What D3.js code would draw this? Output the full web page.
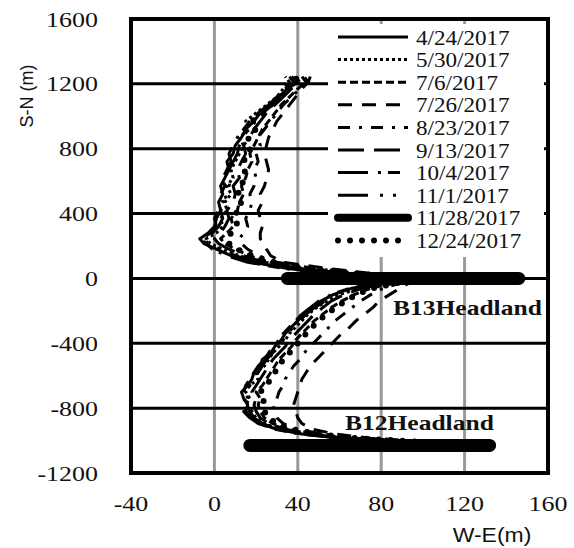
<!DOCTYPE html>
<html>
<head>
<meta charset="utf-8">
<script src="https://cdn.jsdelivr.net/npm/d3@7"></script>
<style>
  body { margin: 0; background: #fff; }
  svg { display: block; }
</style>
</head>
<body>
<div id="chart"></div>
<script>
// S-N positions (m) at which each survey's shoreline W-E position was read
const yLevels = [-1005, -985, -960, -930, -895, -860, -820, -780, -740, -700, -660, -620, -580, -540,
  -500, -460, -420, -380, -340, -300, -260, -220, -180, -140, -100, -60, -25, 0, 25, 60, 100, 140,
  180, 215, 245, 280, 320, 370, 420, 470, 520, 570, 620, 670, 720, 770, 820, 870, 920, 970, 1020,
  1070, 1120, 1170, 1210, 1245]

const dates = ['4/24/2017', '5/30/2017', '7/6/2017', '7/26/2017', '8/23/2017', '9/13/2017',
  '10/4/2017', '11/1/2017', '11/28/2017', '12/24/2017']

// W-E (m) per level
const x0424 = [95, 62, 42, 30, 22, 18, 15, 16, 14, 13, 16, 18, 19, 22, 23, 27, 29, 32, 34, 37, 40, 43, 47, 51, 57, 66, 82, 96,
  62, 36, 18, 8, 1, -5, -7, -3, 0, 1, 3, 2, 4, 3, 5, 7, 6, 9, 10, 13, 15, 19, 22, 27, 31, 35, 40, 37]
const x0530 = [90, 60, 44, 31, 24, 20, 18, 15, 17, 15, 17, 21, 20, 24, 26, 28, 31, 34, 36, 39, 42, 45, 49, 54, 60, 70, 85, 97,
  66, 40, 22, 12, 4, -2, -4, 1, 4, 3, 6, 5, 8, 6, 9, 8, 10, 12, 14, 12, 17, 15, 20, 25, 30, 33, 36, 34]
const x0706 = [98, 66, 48, 35, 28, 24, 22, 21, 22, 20, 23, 25, 27, 29, 31, 34, 37, 39, 42, 45, 48, 52, 56, 61, 67, 75, 88, 99,
  70, 44, 26, 17, 10, 5, 3, 6, 9, 8, 11, 12, 14, 13, 15, 16, 18, 17, 19, 21, 23, 26, 29, 32, 36, 40, 44, 42]
const x0726 = [100, 75, 58, 47, 42, 40, 39, 38, 39, 40, 41, 42, 44, 46, 49, 52, 55, 58, 61, 65, 68, 72, 76, 79, 84, 89, 94, 100,
  80, 55, 33, 27, 25, 24, 22, 22, 23, 22, 21, 23, 22, 24, 25, 26, 25, 24, 25, 26, 28, 30, 33, 36, 39, 42, 45, 43]
const x0823 = [97, 70, 52, 40, 33, 30, 29, 28, 30, 31, 33, 34, 36, 38, 41, 43, 46, 49, 52, 55, 58, 62, 66, 70, 75, 81, 90, 98,
  74, 48, 30, 21, 16, 13, 12, 14, 16, 15, 17, 18, 17, 19, 20, 19, 21, 20, 22, 21, 24, 27, 30, 33, 37, 41, 45, 46]
const x0913 = [93, 64, 46, 34, 26, 22, 20, 19, 20, 18, 20, 22, 24, 26, 28, 31, 34, 36, 39, 42, 45, 48, 52, 56, 62, 71, 86, 97,
  68, 42, 24, 14, 7, 2, 0, 3, 5, 7, 6, 9, 10, 9, 12, 11, 13, 15, 14, 17, 19, 22, 25, 29, 33, 37, 41, 39]
const x1004 = [92, 60, 41, 29, 21, 17, 14, 13, 15, 14, 15, 17, 19, 21, 24, 26, 28, 31, 33, 36, 39, 42, 46, 50, 56, 65, 80, 95,
  60, 34, 16, 6, -1, -4, -6, -2, 1, 0, 2, 4, 3, 5, 4, 6, 8, 7, 9, 11, 14, 17, 21, 26, 30, 34, 38, 36]
const x1101 = [94, 63, 43, 31, 23, 19, 17, 15, 16, 15, 17, 19, 21, 23, 25, 28, 30, 33, 35, 38, 41, 44, 48, 53, 58, 68, 83, 96,
  64, 38, 20, 10, 3, -3, -5, -1, 2, 4, 3, 6, 5, 7, 8, 7, 9, 11, 12, 14, 16, 20, 23, 28, 32, 36, 39, 41]
const x1224 = [96, 68, 50, 37, 30, 26, 24, 23, 24, 22, 25, 27, 29, 31, 33, 36, 39, 41, 44, 47, 50, 54, 58, 63, 68, 76, 89, 98,
  72, 46, 28, 18, 11, 7, 6, 8, 10, 12, 10, 13, 11, 14, 13, 15, 14, 16, 18, 16, 20, 18, 24, 27, 31, 35, 38, 40]

// 11/28/2017 survey: the two headlands (null splits them)
const x1128 = [35, 146, null, 17, 132]
const y1128 = [0, 0, null, -1030, -1030]

const xTicks = [-40, 0, 40, 80, 120, 160]
const yTicks = [-1200, -800, -400, 0, 400, 800, 1200, 1600]

const styles = {
  '4/24/2017': { dash: null, w: 3 },
  '5/30/2017': { dash: '3,3', w: 3 },
  '7/6/2017': { dash: '8,4', w: 3 },
  '7/26/2017': { dash: '14,10', w: 3 },
  '8/23/2017': { dash: '12,9,3,9', w: 3 },
  '9/13/2017': { dash: '26,10', w: 3 },
  '10/4/2017': { dash: '30,10,3,7,12,8', w: 3 },
  '11/1/2017': { dash: '30,12,3,10,3,12', w: 3 },
  '11/28/2017': { dash: null, w: 13, legendW: 8, cap: 'round' },
  '12/24/2017': { dash: '0,12', w: 6, cap: 'round' }
}

const seriesX = {
  '4/24/2017': x0424, '5/30/2017': x0530, '7/6/2017': x0706, '7/26/2017': x0726, '8/23/2017': x0823,
  '9/13/2017': x0913, '10/4/2017': x1004, '11/1/2017': x1101, '12/24/2017': x1224
}

const W = 574, H = 548
const serif = '"Liberation Serif", "Times New Roman", serif'
const sans = '"Liberation Sans", Arial, sans-serif'

const svg = d3.select('#chart').append('svg').attr('width', W).attr('height', H)

const x = d3.scaleLinear().domain([-40, 160]).range([131, 548])
const y = d3.scaleLinear().domain([-1200, 1600]).range([473, 19])

// stretched text, like the source image
function label(sel, tx, ty, str, { size = 22, anchor = 'start', font = serif, weight = 'normal', sx = 1.15 } = {}) {
  return sel.append('text')
    .attr('transform', `translate(${tx},${ty}) scale(${sx},1)`)
    .attr('text-anchor', anchor)
    .style('font-family', font).style('font-size', `${size}px`).style('font-weight', weight)
    .attr('fill', '#111').text(str)
}

// Grid: vertical grey, horizontal black
svg.append('g').selectAll('line').data(xTicks.slice(1, -1)).join('line')
  .attr('x1', d => x(d)).attr('x2', d => x(d)).attr('y1', y(1600)).attr('y2', y(-1200))
  .attr('stroke', '#999').attr('stroke-width', 3)
svg.append('g').selectAll('line').data(yTicks.slice(1, -1)).join('line')
  .attr('x1', x(-40)).attr('x2', x(160)).attr('y1', d => y(d)).attr('y2', d => y(d))
  .attr('stroke', '#000').attr('stroke-width', 3)

// Legend box hides the grid behind it
const lg = svg.append('g')
lg.append('rect').attr('x', 328).attr('y', 24).attr('width', 216).attr('height', 233).attr('fill', '#fff')

// Shorelines
const line = d3.line().defined(d => d.x != null).x(d => x(d.x)).y(d => y(d.y))
dates.filter(d => seriesX[d]).forEach(d => {
  const pts = yLevels.map((lv, i) => ({ x: seriesX[d][i], y: lv }))
  const st = styles[d]
  svg.append('path').datum(pts).attr('d', line)
    .attr('fill', 'none').attr('stroke', '#000').attr('stroke-width', st.w)
    .attr('stroke-dasharray', st.dash).attr('stroke-linecap', st.cap || 'butt')
    .attr('stroke-linejoin', 'round')
})

// Headlands (11/28/2017)
const hl = x1128.map((v, i) => ({ x: v, y: y1128[i] }))
svg.append('path').datum(hl).attr('d', line)
  .attr('fill', 'none').attr('stroke', '#000').attr('stroke-width', styles['11/28/2017'].w)
  .attr('stroke-linecap', 'round')

// Frame
svg.append('rect').attr('x', x(-40)).attr('y', y(1600))
  .attr('width', x(160) - x(-40)).attr('height', y(-1200) - y(1600))
  .attr('fill', 'none').attr('stroke', '#000').attr('stroke-width', 4)

// Legend entries
dates.forEach((d, i) => {
  const ry = 37 + i * 22.6
  const st = styles[d]
  lg.append('line').attr('x1', 338).attr('x2', 408).attr('y1', ry).attr('y2', ry)
    .attr('stroke', '#000').attr('stroke-width', st.legendW || st.w)
    .attr('stroke-dasharray', st.dash).attr('stroke-linecap', st.cap || 'butt')
  label(lg, 416, ry + 7.5, d, { size: 21, sx: 1.1 })
})

// Axis tick labels
yTicks.forEach(t => label(svg, 98, y(t) + 7.5, String(t), { anchor: 'end', size: 22, sx: 1.18 }))
xTicks.forEach(t => label(svg, x(t), 511, String(t), { anchor: 'middle', size: 22, sx: 1.18 }))

// Axis titles
label(svg, 492, 542, 'W-E(m)', { anchor: 'middle', font: sans, size: 20, sx: 1.15 })
svg.append('text').attr('transform', 'translate(33,96) rotate(-90)')
  .attr('text-anchor', 'middle').style('font-family', sans).style('font-size', '18px')
  .attr('fill', '#111').text('S-N (m)')

// Headland names
label(svg, 393, 315, 'B13Headland', { weight: 'bold', size: 22, sx: 1.16 })
label(svg, 345, 430, 'B12Headland', { weight: 'bold', size: 22, sx: 1.16 })
</script>
</body>
</html>
